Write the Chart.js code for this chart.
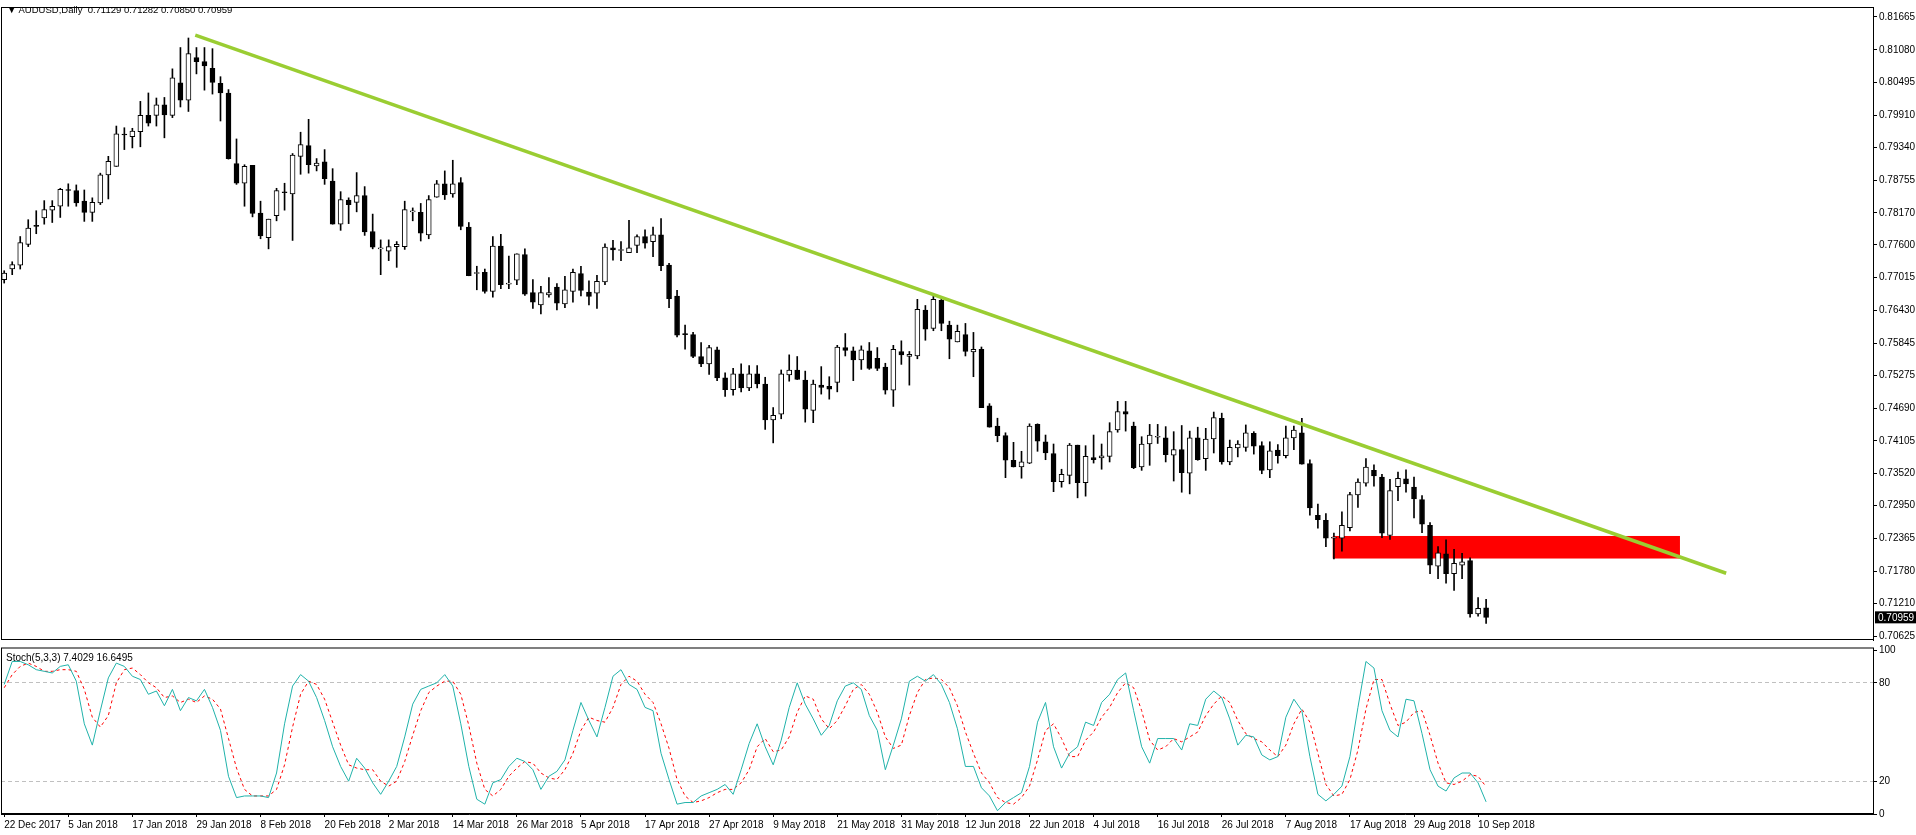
<!DOCTYPE html>
<html>
<head>
<meta charset="utf-8">
<script src="https://cdn.jsdelivr.net/npm/chart.js@4.4.1/dist/chart.umd.min.js"></script>
<style>
  html, body { margin: 0; padding: 0; background: #fff; }
  #wrap { position: relative; width: 1916px; height: 835px; overflow: hidden; }
  canvas { position: absolute; left: 0; }
  #price { top: 0; }
  #stoch { top: 640px; }
  .lbl { position: absolute; font-family: "Liberation Sans", Arial, sans-serif; color: #000; white-space: pre; }
</style>
</head>
<body>
<div id="wrap">
  <canvas id="stoch" width="1916" height="195"></canvas>
  <canvas id="price" width="1916" height="648"></canvas>
  <div class="lbl" style="left:7px;top:4px;font-size:9.5px;">▼ AUDUSD,Daily  0.71129 0.71282 0.70850 0.70959</div>
  <div class="lbl" style="left:6px;top:652px;font-size:10px;">Stoch(5,3,3) 7.4029 16.6495</div>
</div>
<script>
const dateLabels = ["22 Dec 2017", "5 Jan 2018", "17 Jan 2018", "29 Jan 2018", "8 Feb 2018", "20 Feb 2018",
  "2 Mar 2018", "14 Mar 2018", "26 Mar 2018", "5 Apr 2018", "17 Apr 2018", "27 Apr 2018", "9 May 2018",
  "21 May 2018", "31 May 2018", "12 Jun 2018", "22 Jun 2018", "4 Jul 2018", "16 Jul 2018", "26 Jul 2018",
  "7 Aug 2018", "17 Aug 2018", "29 Aug 2018", "10 Sep 2018"];
const BARS_PER_LABEL = 8;

const priceTicks = [0.81665, 0.81080, 0.80495, 0.79910, 0.79340, 0.78755, 0.78170, 0.77600, 0.77015, 0.76430,
  0.75845, 0.75275, 0.74690, 0.74105, 0.73520, 0.72950, 0.72365, 0.71780, 0.71210, 0.70625];

const opens = [
  .7698,.7717,.7724,.7761,.7794,.7808,.7822,.7829,.7858,.7857,.7838,.7818,.7835,.7885,.7900,.7957,.7953,.7962,.7991,.7991,
  .8010,.7991,.8049,.8018,.8094,.8087,.8075,.8048,.8031,.7905,.7870,.7902,.7817,.7773,.7812,.7854,.7851,.7918,.7937,.7901,
  .7908,.7874,.7797,.7840,.7836,.7848,.7784,.7753,.7749,.7757,.7757,.7819,.7818,.7778,.7845,.7869,.7851,.7871,.7792,.7709,
  .7711,.7677,.7758,.7690,.7697,.7743,.7675,.7653,.7671,.7685,.7655,.7677,.7709,.7676,.7674,.7694,.7755,.7750,.7746,.7759,
  .7775,.7766,.7778,.7724,.7669,.7601,.7600,.7561,.7548,.7573,.7523,.7502,.7530,.7505,.7530,.7512,.7448,.7458,.7528,.7537,
  .7519,.7465,.7510,.7508,.7515,.7577,.7571,.7555,.7571,.7558,.7542,.7501,.7570,.7561,.7562,.7644,.7611,.7661,.7617,.7587,
  .7600,.7569,.7574,.7473,.7437,.7420,.7376,.7364,.7371,.7440,.7409,.7388,.7338,.7349,.7403,.7336,.7381,.7380,.7383,.7430,
  .7463,.7437,.7364,.7405,.7417,.7416,.7385,.7395,.7353,.7416,.7379,.7414,.7451,.7373,.7398,.7399,.7424,.7402,.7359,.7394,
  .7384,.7416,.7425,.7370,.7278,.7269,.7237,.7237,.7256,.7314,.7335,.7358,.7346,.7242,.7329,.7343,.7328,.7306,.7260,.7187,
  .7209,.7174,.7189,.7197,.7102,.71129];
const highs = [
  .7714,.7730,.7775,.7805,.7821,.7839,.7839,.7861,.7869,.7867,.7858,.7844,.7888,.7918,.7972,.7969,.7968,.8016,.8031,.8022,
  .8023,.8074,.8112,.8129,.8112,.8112,.8110,.8060,.8037,.7949,.7903,.7902,.7838,.7806,.7861,.7870,.7923,.7961,.7984,.7914,
  .7930,.7896,.7855,.7844,.7889,.7864,.7815,.7769,.7769,.7766,.7838,.7826,.7834,.7848,.7875,.7892,.7911,.7880,.7800,.7722,
  .7717,.7775,.7779,.7740,.7744,.7753,.7698,.7686,.7702,.7691,.7704,.7717,.7722,.7696,.7706,.7762,.7768,.7766,.7804,.7778,
  .7787,.7792,.7807,.7727,.7679,.7617,.7604,.7586,.7581,.7578,.7532,.7540,.7548,.7545,.7545,.7524,.7470,.7537,.7564,.7561,
  .7535,.7519,.7543,.7525,.7581,.7602,.7578,.7580,.7586,.7577,.7549,.7581,.7589,.7570,.7663,.7652,.7669,.7666,.7624,.7617,
  .7620,.7604,.7578,.7477,.7451,.7425,.7408,.7392,.7441,.7441,.7421,.7405,.7360,.7406,.7403,.7402,.7421,.7405,.7443,.7481,
  .7481,.7444,.7418,.7440,.7440,.7436,.7427,.7438,.7428,.7435,.7433,.7462,.7460,.7412,.7411,.7439,.7427,.7409,.7409,.7404,
  .7437,.7437,.7451,.7377,.7298,.7281,.7246,.7284,.7319,.7343,.7379,.7368,.7351,.7342,.7355,.7359,.7346,.7313,.7265,.7222,
  .7234,.7217,.7210,.7202,.7131,.71282];
const lows = [
  .7692,.7707,.7717,.7757,.7780,.7797,.7800,.7809,.7829,.7829,.7802,.7802,.7832,.7842,.7900,.7930,.7933,.7935,.7972,.7972,
  .7951,.7987,.8006,.7998,.8065,.8036,.8029,.7981,.7913,.7868,.7829,.7810,.7771,.7753,.7803,.7822,.7768,.7886,.7888,.7892,
  .7868,.7797,.7786,.7798,.7819,.7777,.7753,.7707,.7732,.7720,.7752,.7803,.7767,.7771,.7845,.7841,.7845,.7787,.7705,.7680,
  .7674,.7667,.7682,.7682,.7689,.7670,.7647,.7637,.7667,.7644,.7648,.7658,.7669,.7653,.7647,.7689,.7733,.7732,.7746,.7746,
  .7754,.7739,.7714,.7648,.7596,.7574,.7559,.7543,.7529,.7518,.7490,.7492,.7498,.7500,.7505,.7431,.7407,.7450,.7517,.7520,
  .7444,.7443,.7494,.7485,.7498,.7562,.7518,.7538,.7538,.7536,.7494,.7472,.7547,.7510,.7557,.7590,.7607,.7607,.7557,.7587,
  .7562,.7525,.7470,.7435,.7409,.7345,.7364,.7344,.7370,.7392,.7377,.7320,.7328,.7334,.7309,.7312,.7371,.7360,.7373,.7426,
  .7428,.7361,.7358,.7367,.7406,.7373,.7339,.7319,.7316,.7376,.7358,.7389,.7369,.7368,.7382,.7392,.7387,.7352,.7345,.7371,
  .7380,.7395,.7369,.7278,.7255,.7222,.7200,.7214,.7250,.7292,.7330,.7330,.7238,.7235,.7304,.7319,.7273,.7247,.7174,.7165,
  .7157,.7144,.7165,.7096,.7098,.70850];
const closes = [
  .7710,.7725,.7764,.7790,.7793,.7823,.7829,.7859,.7857,.7835,.7818,.7836,.7885,.7909,.7958,.7956,.7963,.7991,.7977,.8010,
  .7992,.8058,.8018,.8101,.8087,.8079,.8050,.8031,.7914,.7870,.7900,.7816,.7776,.7806,.7857,.7853,.7920,.7939,.7903,.7906,
  .7878,.7797,.7841,.7832,.7848,.7783,.7756,.7754,.7757,.7761,.7823,.7820,.7781,.7841,.7869,.7849,.7869,.7793,.7705,.7709,
  .7677,.7758,.7689,.7690,.7744,.7672,.7658,.7675,.7675,.7656,.7680,.7711,.7679,.7668,.7695,.7756,.7751,.7750,.7755,.7775,
  .7763,.7778,.7723,.7664,.7599,.7600,.7561,.7548,.7577,.7523,.7502,.7530,.7505,.7530,.7512,.7448,.7456,.7530,.7537,.7520,
  .7467,.7512,.7506,.7503,.7578,.7572,.7555,.7573,.7540,.7540,.7501,.7574,.7564,.7565,.7645,.7610,.7663,.7620,.7592,.7606,
  .7570,.7574,.7470,.7435,.7420,.7376,.7364,.7373,.7437,.7410,.7389,.7338,.7351,.7403,.7336,.7383,.7377,.7384,.7427,.7463,
  .7458,.7363,.7405,.7421,.7418,.7386,.7395,.7354,.7416,.7377,.7414,.7452,.7373,.7399,.7405,.7425,.7401,.7358,.7393,.7384,
  .7416,.7430,.7369,.7291,.7270,.7237,.7238,.7260,.7315,.7337,.7364,.7348,.7246,.7322,.7344,.7334,.7307,.7262,.7189,.7211,
  .7174,.7192,.7195,.7102,.7112,.70959];

const stochK = [
  79,93,93,91,88,87,86,90,91,81,55,42,63,83,92,90,84,82,73,75,66,76,63,71,69,76,65,51,23,10,
  11,11,11,10,25,55,78,85,81,71,57,41,29,20,34,28,19,12,20,29,47,67,76,78,80,85,78,55,29,9,
  6,19,21,29,34,32,27,15,23,26,33,51,68,57,47,65,84,88,79,76,65,63,37,21,6,7,7,11,13,15,
  18,12,27,43,55,41,30,45,65,80,67,58,48,54,69,78,80,76,60,51,27,42,58,81,84,81,85,79,68,52,
  29,29,16,11,2,7,10,13,29,56,68,41,28,37,41,56,54,68,73,82,86,63,41,31,46,46,46,39,55,54,
  70,75,71,58,42,48,47,36,33,35,59,70,63,35,12,8,12,17,35,65,93,89,63,51,47,70,69,49,27,17,
  14,22,25,25,19,7.4029];
const stochD = [
  77,85,90,92,90,87,87,88,88,87,76,59,53,60,80,88,89,85,80,77,71,72,68,70,68,72,70,64,46,28,
  15,11,11,11,15,30,53,73,81,79,70,56,42,30,28,27,27,20,17,20,32,48,63,74,78,81,81,73,54,31,
  15,11,15,23,28,32,31,25,22,21,27,37,51,59,57,56,65,79,84,81,73,68,55,40,21,11,7,8,10,13,
  15,15,19,27,41,46,38,39,47,62,72,70,58,52,57,66,76,79,73,62,47,40,42,60,74,82,83,82,77,66,
  50,37,25,19,10,7,6,10,17,33,51,55,46,35,35,45,50,59,65,74,80,77,63,45,39,41,46,44,47,50,
  60,67,72,68,57,49,46,44,39,35,42,55,64,56,37,18,11,12,21,39,64,82,82,67,54,56,62,63,48,31,
  19,18,20,24,23,16.6495];

// trend line end points (bar index, price) and the red zone
const trendX = [23.85, 214.97];
const trendY = [0.81340, 0.71745];
const zoneX = [165.85, 209.2];
const zoneY = [0.72008, 0.72410];

const X_MIN = -0.4, X_MAX = 233.3;
const AXIS_W = 43;
const FONT = { family: "Liberation Sans", size: 10 };

const idx = closes.map((_, i) => i);
const wickData = idx.map((i) => ({ x: i, y: [lows[i], highs[i]] }));
const bodyData = idx.map((i) => ({ x: i, y: [Math.min(opens[i], closes[i]), Math.max(opens[i], closes[i])] }));
const bodyColors = idx.map((i) => (closes[i] >= opens[i] ? "#ffffff" : "#000000"));

const framePlugin = {
  id: "frame",
  beforeDatasetsDraw(chart, args, opts) {
    if (!opts.zone) return;
    const { ctx, scales } = chart;
    const x1 = scales.x.getPixelForValue(zoneX[0]);
    const x2 = scales.x.getPixelForValue(zoneX[1]);
    const y1 = scales.y.getPixelForValue(zoneY[1]);
    const y2 = scales.y.getPixelForValue(zoneY[0]);
    ctx.save();
    ctx.fillStyle = "#ff0000";
    ctx.fillRect(x1, y1, x2 - x1, y2 - y1);
    ctx.restore();
  },
  afterDraw(chart, args, opts) {
    const { ctx, chartArea: a, scales } = chart;
    ctx.save();
    ctx.strokeStyle = "#000";
    ctx.lineWidth = 1;
    ctx.strokeRect(a.left + 0.5, a.top - 0.5 - (opts.topGap || 0), a.right - a.left, a.bottom - a.top + (opts.topGap || 0));
    if (opts.lastPrice) {
      const y = scales.y.getPixelForValue(opts.lastPrice);
      ctx.fillStyle = "#000";
      ctx.fillRect(a.right + 2, y - 6, chart.width - a.right - 2, 12);
      ctx.fillStyle = "#fff";
      ctx.font = "10px 'Liberation Sans'";
      ctx.textBaseline = "middle";
      ctx.fillText(opts.lastPrice.toFixed(5), a.right + 5, y + 0.5);
    }
    ctx.restore();
  },
};

new Chart(document.getElementById("price"), {
  type: "bar",
  data: {
    datasets: [
      { type: "line", data: trendX.map((x, i) => ({ x, y: trendY[i] })), borderColor: "#9ACD32",
        borderWidth: 3.5, pointRadius: 0, order: 0 },
      { data: bodyData, backgroundColor: bodyColors, borderColor: "#000", borderWidth: 1,
        borderSkipped: false, barThickness: 5, minBarLength: 1, grouped: false, order: 1 },
      { data: wickData, backgroundColor: "#000", borderWidth: 0, barThickness: 1, grouped: false, order: 2 },
    ],
  },
  options: {
    responsive: false,
    animation: false,
    layout: { padding: { left: 1, top: 3, bottom: 1, right: 0 } },
    plugins: {
      legend: { display: false },
      tooltip: { enabled: false },
      frame: { zone: true, lastPrice: closes[closes.length - 1] },
    },
    scales: {
      x: { type: "linear", min: X_MIN, max: X_MAX, offset: false, grid: { offset: false }, display: false },
      y: {
        position: "right",
        min: 0.70555,
        max: 0.81825,
        afterBuildTicks: (axis) => { axis.ticks = priceTicks.map((v) => ({ value: v })); },
        afterFit: (axis) => { axis.width = AXIS_W; },
        ticks: { color: "#000", font: FONT, padding: 2, callback: (v) => v.toFixed(5) },
        grid: { drawOnChartArea: false, tickLength: 4, color: "#000" },
        border: { display: true, color: "#000" },
      },
    },
  },
  plugins: [framePlugin],
});

const xTicks = dateLabels.map((_, k) => k * BARS_PER_LABEL);

new Chart(document.getElementById("stoch"), {
  type: "line",
  data: {
    datasets: [
      { data: idx.map((i) => ({ x: i, y: stochK[i] })), borderColor: "#20B2AA", borderWidth: 1,
        pointRadius: 0, tension: 0 },
      { data: idx.map((i) => ({ x: i, y: stochD[i] })), borderColor: "#ff0000", borderWidth: 1,
        borderDash: [3, 3], pointRadius: 0, tension: 0 },
    ],
  },
  options: {
    responsive: false,
    animation: false,
    layout: { padding: { left: 1, top: 10, bottom: 0, right: 0 } },
    plugins: { legend: { display: false }, tooltip: { enabled: false }, frame: { topGap: 1.5 } },
    scales: {
      x: {
        type: "linear", min: X_MIN, max: X_MAX,
        afterBuildTicks: (axis) => { axis.ticks = xTicks.map((v) => ({ value: v })); },
        afterFit: (axis) => { axis.height = 21; },
        ticks: { color: "#000", font: FONT, maxRotation: 0, autoSkip: false, align: "start", padding: 2,
          callback: (v) => dateLabels[v / BARS_PER_LABEL] },
        grid: { drawOnChartArea: false, tickLength: 3, color: "#000" },
        border: { display: true, color: "#000" },
      },
      y: {
        position: "right", min: 0, max: 100,
        afterBuildTicks: (axis) => { axis.ticks = [0, 20, 80, 100].map((v) => ({ value: v })); },
        afterFit: (axis) => { axis.width = AXIS_W; },
        ticks: { color: "#000", font: FONT, padding: 2 },
        grid: {
          color: (c) => (c.tick && (c.tick.value === 20 || c.tick.value === 80) ? "#c0c0c0" : "rgba(0,0,0,0)"),
          tickColor: "#000", tickLength: 4,
        },
        border: { display: true, color: "#000", dash: [4, 3] },
      },
    },
  },
  plugins: [framePlugin],
});
</script>
</body>
</html>
